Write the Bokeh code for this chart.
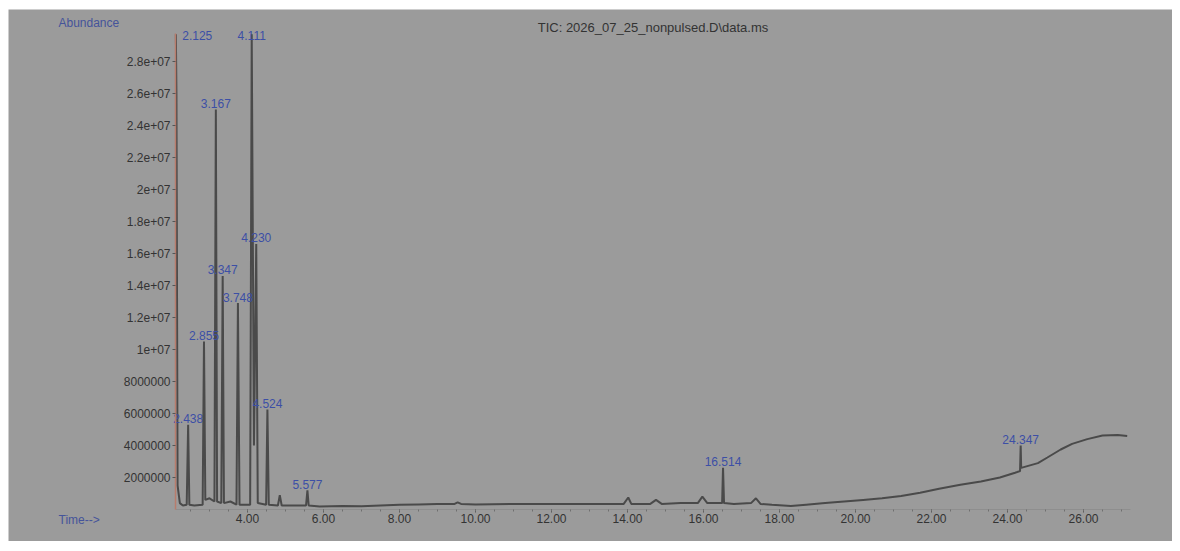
from bokeh.plotting import figure
from bokeh.models import Range1d, FixedTicker, Label, ColumnDataSource, NumeralTickFormatter
from bokeh.core.properties import value
from bokeh.embed import file_html
from bokeh.resources import INLINE

# ---------------- data ----------------
title_text = "TIC: 2026_07_25_nonpulsed.D\\data.ms"
y_title = "Abundance"
x_title = "Time-->"

trace_time = [2.115, 2.13, 2.16, 2.22, 2.30, 2.40, 2.438, 2.47, 2.60, 2.82, 2.855, 2.89, 3.00, 3.13,
              3.167, 3.20, 3.31, 3.347, 3.38, 3.55, 3.71, 3.748, 3.79, 4.07, 4.111, 4.17, 4.23, 4.27,
              4.49, 4.524, 4.56, 4.80, 4.85, 4.90, 5.54, 5.577, 5.61, 5.90, 6.50, 7.00, 7.50, 8.00,
              8.50, 9.00, 9.45, 9.53, 9.62, 10.0, 11.0, 12.0, 13.0, 13.9, 14.02, 14.1, 14.6, 14.75,
              14.9, 15.4, 15.85, 15.97, 16.1, 16.49, 16.514, 16.54, 16.8, 17.25, 17.38, 17.5, 17.8,
              18.3, 18.7, 19.2, 19.7, 20.2, 20.7, 21.2, 21.7, 22.2, 22.76, 23.3, 23.8, 24.2, 24.33,
              24.347, 24.36, 24.8, 25.05, 25.4, 25.7, 26.1, 26.5, 26.9, 27.15]
trace_abund = [2.97e7, 2.6e7, 1.5e6, 4.0e5, 2.5e5, 3.0e5, 5.3e6, 3.0e5, 2.5e5, 3.0e5, 1.05e7, 6.0e5, 7.0e5, 5.0e5,
               2.5e7, 5.0e5, 4.0e5, 1.46e7, 4.0e5, 5.0e5, 3.0e5, 1.29e7, 3.0e5, 3.0e5, 2.97e7, 4.0e6, 1.66e7, 4.0e5,
               3.0e5, 6.25e6, 3.0e5, 2.5e5, 9.0e5, 2.5e5, 2.5e5, 1.2e6, 2.5e5, 1.9e5, 2.2e5, 2.0e5, 2.5e5, 3.0e5,
               3.2e5, 3.4e5, 3.5e5, 4.5e5, 3.5e5, 3.2e5, 3.4e5, 3.5e5, 3.4e5, 3.5e5, 7.5e5, 3.5e5, 3.5e5, 6.0e5,
               3.5e5, 4.0e5, 4.0e5, 8.0e5, 4.0e5, 4.0e5, 2.6e6, 4.0e5, 3.5e5, 4.0e5, 7.0e5, 3.5e5, 3.0e5,
               2.2e5, 3.0e5, 4.0e5, 5.0e5, 6.0e5, 7.0e5, 8.5e5, 1.05e6, 1.3e6, 1.55e6, 1.75e6, 2.0e6, 2.3e6, 2.4e6,
               4.0e6, 2.6e6, 2.9e6, 3.25e6, 3.75e6, 4.1e6, 4.4e6, 4.62e6, 4.65e6, 4.6e6]

peak_time = [2.125, 2.438, 2.855, 3.167, 3.347, 3.748, 4.111, 4.230, 4.524, 5.577, 16.514, 24.347]
peak_abund = [2.97e7, 5.3e6, 1.05e7, 2.5e7, 1.46e7, 1.29e7, 2.97e7, 1.66e7, 6.25e6, 1.2e6, 2.6e6, 4.0e6]
peak_label = ["2.125", "2.438", "2.855", "3.167", "3.347", "3.748", "4.111", "4.230", "4.524",
              "5.577", "16.514", "24.347"]

x_ticks = [4, 6, 8, 10, 12, 14, 16, 18, 20, 22, 24, 26]
y_ticks = [2000000, 4000000, 6000000, 8000000, 10000000, 12000000, 14000000, 16000000,
           18000000, 20000000, 22000000, 24000000, 26000000, 28000000]
y_tick_labels = ["2000000", "4000000", "6000000", "8000000", "1e+07", "1.2e+07", "1.4e+07",
                 "1.6e+07", "1.8e+07", "2e+07", "2.2e+07", "2.4e+07", "2.6e+07", "2.8e+07"]

# ---------------- styling / layout ----------------
BG = "#9b9b9b"
FONT = "Liberation Sans"
PX_X = 1 / 38.0          # minutes per pixel
PX_Y = 62500.0           # abundance per pixel
# pixel anchors (page coordinates): 4.00 min at x=247, zero abundance at y=509
def tx(px):
    return 4 + (px - 247) * PX_X
def ty(py):
    return (509 - py) * PX_Y

AX_X0, AX_X1 = tx(175), tx(1130)   # extent of the time axis
AX_Y0, AX_Y1 = 0.0, ty(33)         # extent of the abundance axis

p = figure(width=1172, height=541, output_backend="svg", toolbar_location=None,
           x_range=Range1d(tx(8), tx(1172)), y_range=Range1d(ty(541), ty(9)),
           min_border_left=8, min_border_right=0, min_border_top=9, min_border_bottom=0)
p.background_fill_color = BG
p.border_fill_color = "white"
p.outline_line_color = None
p.xgrid.visible = False
p.ygrid.visible = False

# axes (kept at the chromatogram's own origin)
p.yaxis.fixed_location = AX_X0
p.yaxis.bounds = (AX_Y0, AX_Y1)
p.yaxis.ticker = FixedTicker(ticks=y_ticks)
p.yaxis.major_label_overrides = {t: s for t, s in zip(y_ticks, y_tick_labels)}
p.yaxis.axis_line_color = "#b87c6c"
p.yaxis.axis_line_width = 1.5
p.yaxis.major_tick_line_color = "#555555"
p.yaxis.major_tick_out = 3
p.yaxis.major_tick_in = 0
p.yaxis.minor_tick_line_color = None
p.yaxis.major_label_standoff = 2
p.yaxis.major_label_text_font = FONT
p.yaxis.major_label_text_font_size = "12px"
p.yaxis.major_label_text_color = "#333333"

minor = [x0 / 2 for x0 in range(5, 55)]
p.xaxis.fixed_location = AX_Y0
p.xaxis.bounds = (AX_X0, AX_X1)
p.xaxis.ticker = FixedTicker(ticks=x_ticks, minor_ticks=minor)
p.xaxis.formatter = NumeralTickFormatter(format="0.00")
p.xaxis.axis_line_color = "#8e8e8e"
p.xaxis.major_tick_line_color = "#555555"
p.xaxis.major_tick_out = 3
p.xaxis.major_tick_in = 0
p.xaxis.minor_tick_line_color = "#6f6f6f"
p.xaxis.minor_tick_out = 2
p.xaxis.minor_tick_in = 0
p.xaxis.major_label_standoff = 1
p.xaxis.major_label_text_font = FONT
p.xaxis.major_label_text_font_size = "12px"
p.xaxis.major_label_text_color = "#333333"

# chromatogram trace
p.line(trace_time, trace_abund, line_color="#4a4a4a", line_width=2)

# peak labels
lab_x = [t if t > AX_X0 + 0.2 else t + 6 * PX_X for t in peak_time]
lab_y = [min(h + 6 * PX_Y, AX_Y1 - 2 * PX_Y) for h in peak_abund]
lab_align = ["center" if t > AX_X0 + 0.2 else "left" for t in peak_time]
src = ColumnDataSource(dict(x=lab_x, y=lab_y, t=peak_label, a=lab_align))
p.text(x="x", y="y", text="t", source=src, text_align="a", text_baseline="middle",
       text_font=value(FONT), text_font_size="12px", text_color="#3c4fa6")

# title and axis captions
p.add_layout(Label(x=(AX_X0 + AX_X1) / 2, y=ty(27), text=title_text,
                   text_align="center", text_baseline="middle", text_font=FONT,
                   text_font_size="13px", text_color="#333333"))
p.add_layout(Label(x=tx(58), y=ty(22), text=y_title,
                   text_align="left", text_baseline="middle", text_font=FONT,
                   text_font_size="12px", text_color="#45549a"))
p.add_layout(Label(x=tx(58), y=ty(519), text=x_title,
                   text_align="left", text_baseline="middle", text_font=FONT,
                   text_font_size="12px", text_color="#45549a"))

open("out.html", "w").write(file_html(p, INLINE))
